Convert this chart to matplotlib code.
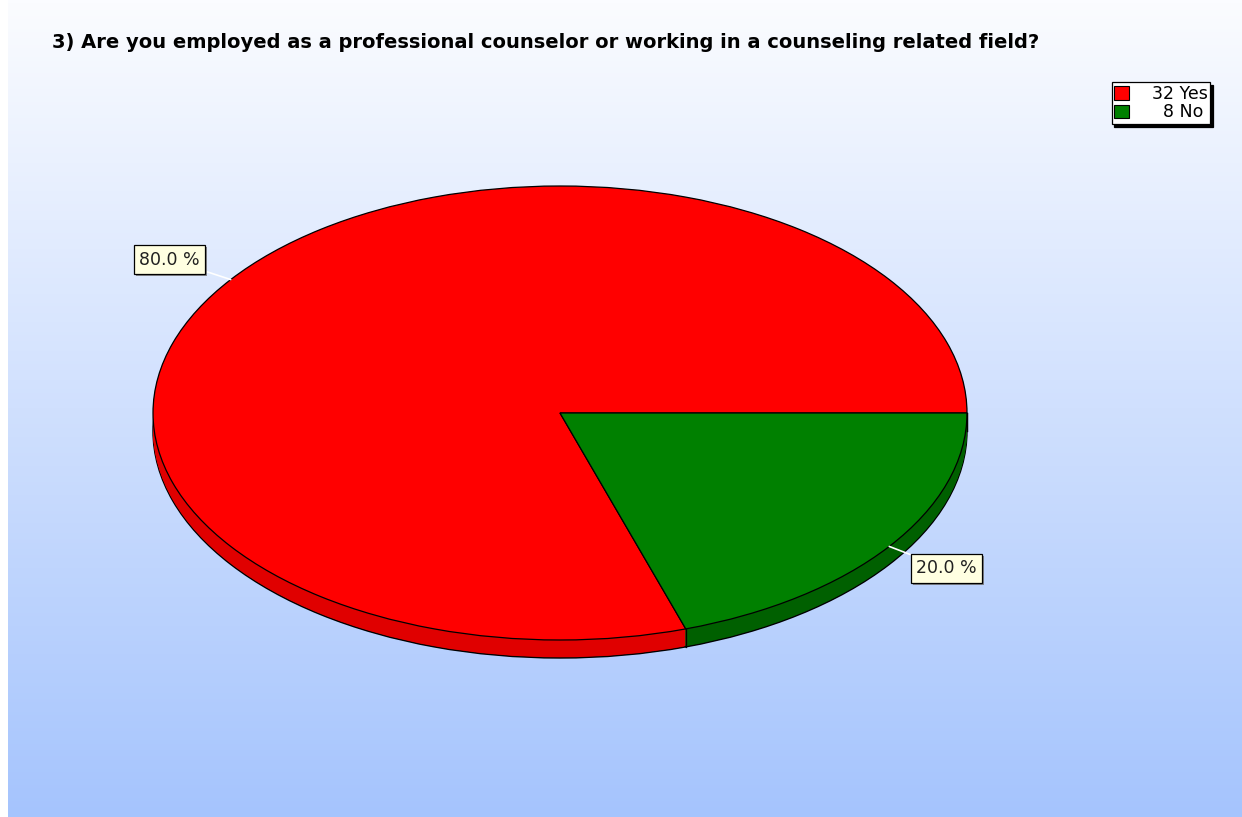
import numpy as np
import matplotlib
matplotlib.use("Agg")
import matplotlib.pyplot as plt
import matplotlib.patheffects as pe
from matplotlib.patches import Patch

# survey answers
answers = ["Yes", "No"]
counts = [32, 8]
top_colors = ["#ff0000", "#008000"]
side_colors = ["#e00000", "#006000"]
title = "3) Are you employed as a professional counselor or working in a counseling related field?"

W, H = 1242, 817
fig = plt.figure(figsize=(W / 100, H / 100), dpi=100)
fig.patch.set_facecolor("white")

# background: vertical white -> light blue gradient
bg = fig.add_axes([8 / W, 0, 1 - 8 / W, 1])
bg.set_axis_off()
grad = np.linspace(0, 1, 256)[:, None]
c0 = np.array([0xfb, 0xfc, 0xff]) / 255
c1 = np.array([0xa5, 0xc4, 0xfd]) / 255
img = c0[None, None, :] * (1 - grad[..., None]) + c1[None, None, :] * grad[..., None]
bg.imshow(img, aspect="auto", extent=[0, 1, 0, 1], origin="upper")
bg.set_xlim(0, 1)
bg.set_ylim(0, 1)

# pie axes, radius 1 -> 407 x 227 px ellipse centred at (560, 413)
rx, ry = 407, 227
cx, cy = 560, 413
ax = fig.add_axes([0, 0, 1, 1])
ax.patch.set_alpha(0)

depth = 18
py = 1 / ry
# side walls: stack of shifted pies, lowest one outlined
for k in range(depth, 0, -1):
    lw = 1.0 if k == depth else 0
    ax.pie(counts, colors=side_colors, startangle=0, counterclock=True,
           center=(0, -k * py), radius=1,
           wedgeprops=dict(edgecolor="black", linewidth=lw))

ax.pie(counts, colors=top_colors, startangle=0, counterclock=True,
       center=(0, 0), radius=1,
       wedgeprops=dict(edgecolor="black", linewidth=0.9))

ax.set_aspect("auto")
ax.set_xlim(-cx / rx, (W - cx) / rx)
ax.set_ylim(-(H - cy) / ry, cy / ry)
ax.set_axis_off()

# vertical seams on the visible side wall
fracs = np.array(counts) / sum(counts)
edges = np.concatenate([[0], np.cumsum(fracs)]) * 360
for a in edges:
    s = np.sin(np.radians(a))
    if s <= 1e-9:
        x = np.cos(np.radians(a))
        ax.plot([x, x], [s, s - depth * py], color="black", lw=0.9)

# percentage labels with cream boxes and short white leaders
mids = (edges[:-1] + edges[1:]) / 2
for f, m in zip(fracs, mids):
    t = np.radians(m)
    x, y = np.cos(t), np.sin(t)
    off = (-61 if x < 0 else 57, 20 if y > 0 else -22)
    lab = ax.annotate(f"{f * 100:.1f} %", xy=(x, y), xytext=off, textcoords="offset pixels",
                      ha="center", va="center", fontsize=12.5, color="#202020",
                      bbox=dict(boxstyle="square,pad=0.3", fc="#ffffe1", ec="black", lw=0.9),
                      arrowprops=dict(arrowstyle="-", color="white", lw=1.2,
                                      shrinkA=0, shrinkB=0))
    lab.get_bbox_patch().set_path_effects(
        [pe.SimplePatchShadow(offset=(1.5, -1.5), shadow_rgbFace="#707070", alpha=0.8),
         pe.Normal()])

fig.text(52 / W, 1 - 42 / H, title, fontsize=14, fontweight="bold",
         ha="left", va="center", color="black")

# legend
handles = [Patch(facecolor=c, edgecolor="black", lw=0.8) for c in top_colors]
labels = [f"{n} {a}" if n >= 10 else f"\u2007{n} {a}" for n, a in zip(counts, answers)]
leg = fig.legend(handles, labels, loc="upper right",
                 bbox_to_anchor=(1210 / W, 1 - 82 / H), fontsize=12.5,
                 frameon=True, fancybox=False, edgecolor="black", facecolor="white",
                 framealpha=1, shadow={"color": "black", "alpha": 1},
                 handlelength=0.85, handleheight=0.85, handletextpad=1.3,
                 borderpad=0.15, labelspacing=0.05, borderaxespad=0)
leg.get_frame().set_linewidth(0.9)

fig.savefig("out.png", dpi=100)
